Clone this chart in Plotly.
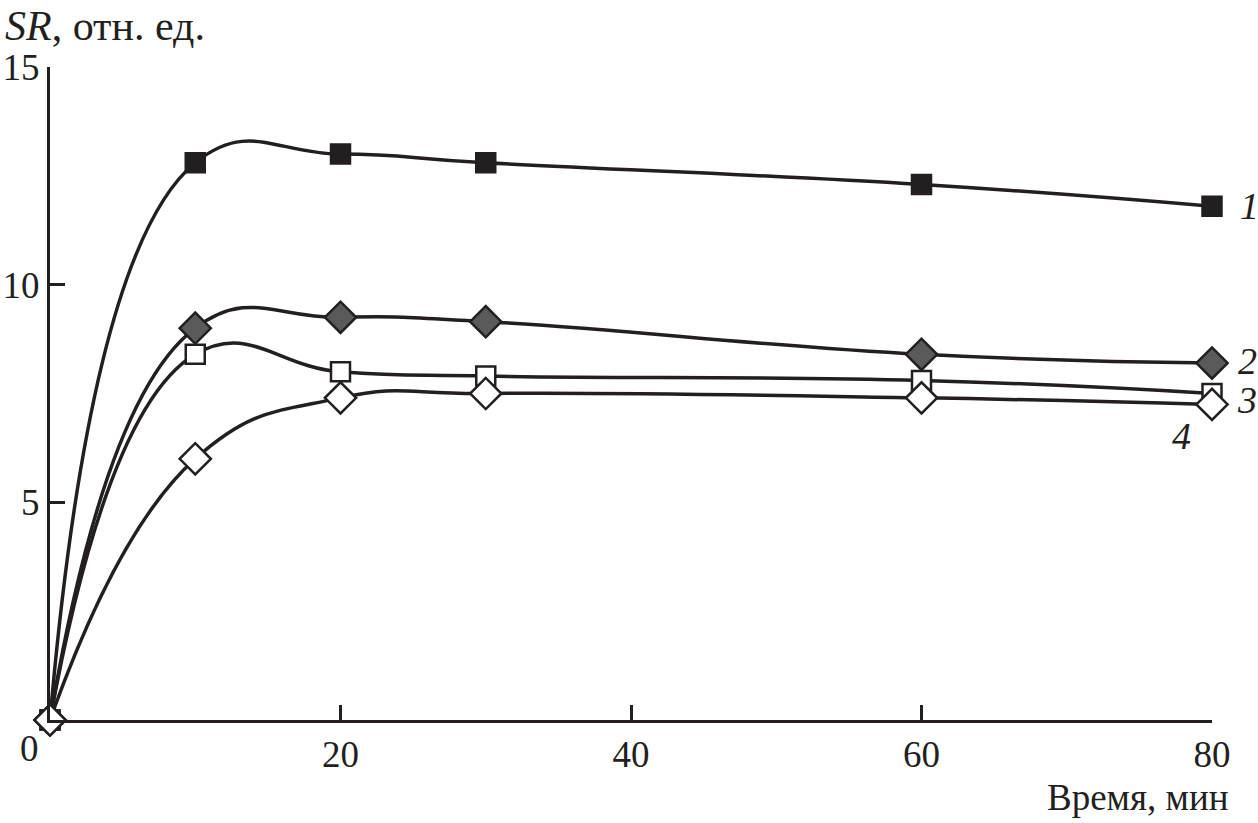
import plotly.graph_objects as go

t = [0, 10, 20, 30, 60, 80]
sr1 = [0, 12.8, 13.0, 12.8, 12.3, 11.8]
sr2 = [0, 9.0, 9.25, 9.15, 8.4, 8.2]
sr3 = [0, 8.4, 8.0, 7.9, 7.8, 7.5]
sr4 = [0, 6.0, 7.4, 7.5, 7.4, 7.25]
series_labels = ["1", "2", "3", "4"]
x_ticks = [20, 40, 60, 80]
y_ticks = [5, 10, 15]

INK = "#231f20"
FONT = "Liberation Serif"

styles = [
    dict(symbol="square", color=INK, size=19),
    dict(symbol="diamond", color="#5a5a5a", size=24),
    dict(symbol="square", color="white", size=19),
    dict(symbol="diamond", color="white", size=24),
]

fig = go.Figure()
for ys, st in zip([sr1, sr2, sr3, sr4], styles):
    fig.add_trace(go.Scatter(
        x=t, y=ys, mode="lines+markers",
        line=dict(color=INK, width=3.5, shape="spline", smoothing=1.3),
        marker=dict(symbol=st["symbol"], size=st["size"], color=st["color"],
                    line=dict(color=INK, width=2.5)),
        cliponaxis=False, showlegend=False,
    ))

# curve labels
label_pos = [
    (80, sr1[-1], 37, 0),
    (80, sr2[-1], 35, 2),
    (80, sr3[-1], 35, -6),
    (80, sr4[-1], -31, -32),
]
for lab, (x, y, xs, ys) in zip(series_labels, label_pos):
    fig.add_annotation(x=x, y=y, text=f"<i>{lab}</i>", showarrow=False,
                       xshift=xs, yshift=ys, borderpad=0,
                       font=dict(family=FONT, size=38, color=INK))

fig.add_annotation(x=0, y=0, xref="x", yref="y", text="0", showarrow=False,
                   xshift=-21, yshift=-28, font=dict(family=FONT, size=37, color=INK))
fig.add_annotation(x=0, y=1, xref="paper", yref="paper", text="<i>SR</i>, отн. ед.",
                   showarrow=False, xanchor="left", yanchor="bottom",
                   xshift=-47, yshift=16, font=dict(family=FONT, size=42, color=INK))
fig.add_annotation(x=1, y=0, xref="paper", yref="paper", text="Время, мин",
                   showarrow=False, xanchor="right", yanchor="top",
                   xshift=19, yshift=-55, font=dict(family=FONT, size=37, color=INK))

fig.update_layout(
    width=1258, height=823,
    margin=dict(l=50, r=46, t=67, b=103, autoexpand=False),
    paper_bgcolor="white", plot_bgcolor="white",
    font=dict(family=FONT, size=37, color=INK),
)
fig.update_xaxes(range=[0, 80], tickvals=x_ticks, ticks="inside", ticklen=15, tickwidth=3,
                 tickcolor=INK, showline=True, linecolor=INK, linewidth=3,
                 showgrid=False, zeroline=False, automargin=False,
                 tickfont=dict(family=FONT, size=37, color=INK))
fig.update_yaxes(range=[0, 15], tickvals=y_ticks, ticks="inside", ticklen=15, tickwidth=3,
                 tickcolor=INK, showline=True, linecolor=INK, linewidth=3,
                 showgrid=False, zeroline=False, automargin=False,
                 tickfont=dict(family=FONT, size=37, color=INK))

fig.write_html("out.html", config={"displayModeBar": False},
               post_script="document.body.style.margin='0';document.body.style.overflow='hidden';")
